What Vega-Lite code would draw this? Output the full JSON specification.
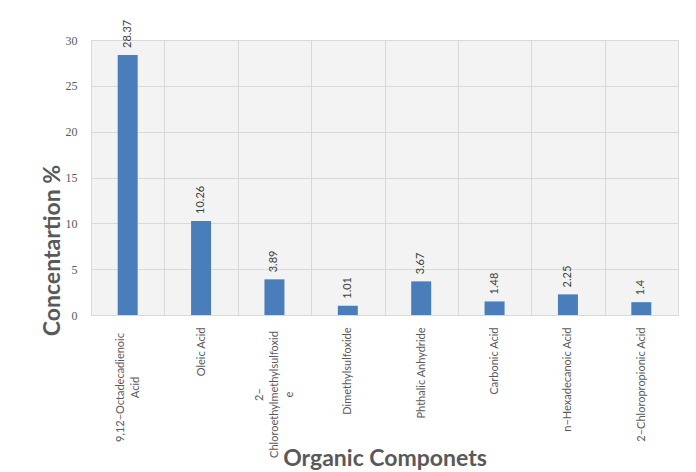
{
  "$schema": "https://vega.github.io/schema/vega-lite/v6.json",
  "autosize": "none",
  "width": 587,
  "height": 275,
  "padding": {"left": 91, "top": 40, "right": 18, "bottom": 157},
  "background": "white",
  "config": {
    "view": {"fill": "#f3f3f3", "stroke": "#d9d9d9", "strokeWidth": 1},
    "font": "Lato"
  },
  "data": {
    "values": [
      {"component": "9,12−Octadecadienoic Acid", "concentration": 28.37},
      {"component": "Oleic Acid", "concentration": 10.26},
      {"component": "2−Chloroethylmethylsulfoxide", "concentration": 3.89},
      {"component": "Dimethylsulfoxide", "concentration": 1.01},
      {"component": "Phthalic Anhydride", "concentration": 3.67},
      {"component": "Carbonic Acid", "concentration": 1.48},
      {"component": "n−Hexadecanoic Acid", "concentration": 2.25},
      {"component": "2−Chloropropionic Acid", "concentration": 1.4}
    ]
  },
  "encoding": {
    "x": {
      "field": "component",
      "type": "nominal",
      "sort": null,
      "scale": {"paddingInner": 0, "paddingOuter": 0},
      "axis": {
        "title": "Organic Componets",
        "titleFont": "Lato",
        "titleFontSize": 23,
        "titleFontWeight": "bold",
        "titleColor": "#595959",
        "titleBaseline": "alphabetic",
        "titleY": 150,
        "labelAngle": -90,
        "labelAlign": {"condition": {"test": "datum.value == '9,12−Octadecadienoic Acid' || datum.value == '2−Chloroethylmethylsulfoxide'", "value": "center"}, "value": "right"},
        "labelPadding": {"condition": [
          {"test": "datum.value == '9,12−Octadecadienoic Acid'", "value": 72},
          {"test": "datum.value == '2−Chloroethylmethylsulfoxide'", "value": 79}
        ], "value": 12},
        "labelOffset": {"condition": [
          {"test": "datum.value == '9,12−Octadecadienoic Acid'", "value": -7.5},
          {"test": "datum.value == '2−Chloroethylmethylsulfoxide'", "value": -15}
        ], "value": 0},
        "labelBaseline": "middle",
        "labelLineHeight": 15,
        "labelFont": "Lato",
        "labelFontSize": 11,
        "labelColor": "#595959",
        "labelLimit": 0,
        "labelExpr": "datum.label == '9,12−Octadecadienoic Acid' ? ['9,12−Octadecadienoic', 'Acid'] : datum.label == '2−Chloroethylmethylsulfoxide' ? ['2−', 'Chloroethylmethylsulfoxid', 'e'] : datum.label",
        "ticks": false,
        "domainColor": "#d9d9d9",
        "grid": true,
        "gridColor": "#d9d9d9",
        "tickBand": "extent"
      }
    },
    "y": {
      "field": "concentration",
      "type": "quantitative",
      "scale": {"domain": [0, 30]},
      "axis": {
        "title": "Concentartion %",
        "titleFont": "Lato",
        "titleFontSize": 23,
        "titleFontWeight": "bold",
        "titleColor": "#595959",
        "titleAngle": -90,
        "titleBaseline": "alphabetic",
        "titleAlign": "center",
        "titleX": -32,
        "titleY": 210,
        "values": [0, 5, 10, 15, 20, 25, 30],
        "labelFont": "Liberation Serif",
        "labelFontSize": 12,
        "labelColor": "#595959",
        "labelPadding": 14,
        "ticks": false,
        "domain": false,
        "grid": true,
        "gridColor": "#d9d9d9"
      }
    }
  },
  "layer": [
    {
      "mark": {"type": "bar", "color": "#4a7ebb", "width": 20}
    },
    {
      "mark": {
        "type": "text",
        "angle": 270,
        "align": "left",
        "baseline": "middle",
        "dx": 7,
        "font": "Lato",
        "fontSize": 11,
        "color": "#404040"
      },
      "encoding": {"text": {"field": "concentration", "type": "quantitative"}}
    }
  ]
}
